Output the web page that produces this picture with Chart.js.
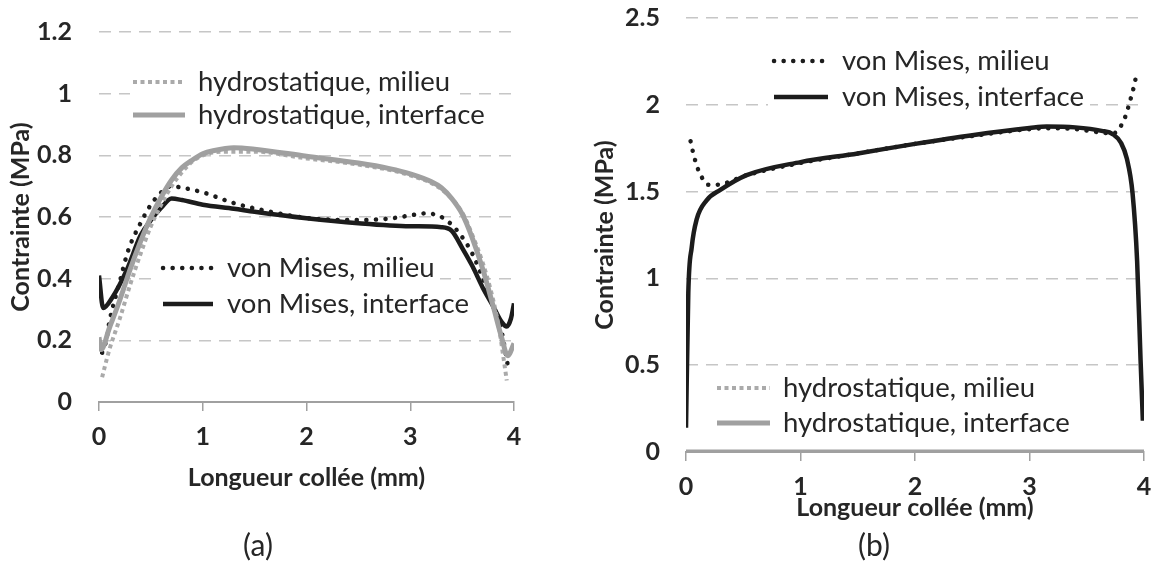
<!DOCTYPE html>
<html><head><meta charset="utf-8">
<script src="https://cdn.jsdelivr.net/npm/chart.js@4/dist/chart.umd.min.js"></script>
<style>
html,body{margin:0;padding:0;background:#fff;}
#wrap{position:relative;width:1153px;height:561px;overflow:hidden;background:#fff;}
.box{position:absolute;top:0;height:561px;}
#boxA{left:0;width:576px;}
#boxB{left:576px;width:577px;}
.cap{position:absolute;font-family:Lato,"Open Sans",sans-serif;font-size:30px;color:#262626;transform:translate(-50%,-50%);white-space:nowrap;}
</style></head><body>
<div id="wrap">
<div class="box" id="boxA"><canvas id="cA" width="576" height="561"></canvas></div>
<div class="box" id="boxB"><canvas id="cB" width="577" height="561"></canvas></div>
<div class="cap" style="left:258px;top:544px">(a)</div>
<div class="cap" style="left:874px;top:544px">(b)</div>
</div>
<script>
// ---------- data ----------
const xTicks = [0, 1, 2, 3, 4];
const yTicksA = [0, 0.2, 0.4, 0.6, 0.8, 1, 1.2];
const yTicksB = [0, 0.5, 1, 1.5, 2, 2.5];
const xTitle = 'Longueur collée (mm)';
const yTitle = 'Contrainte (MPa)';
const nameHM = 'hydrostatique, milieu';
const nameHI = 'hydrostatique, interface';
const nameVM = 'von Mises, milieu';
const nameVI = 'von Mises, interface';

// (a)
const aHydroMilieuX = [0.03, 0.06, 0.1, 0.2, 0.3, 0.4, 0.5, 0.6, 0.7, 0.8, 0.9, 1.0, 1.2, 1.5, 2.0, 2.5, 3.0, 3.3, 3.5, 3.6, 3.7, 3.8, 3.86, 3.9, 3.93];
const aHydroMilieuY = [0.08, 0.12, 0.17, 0.27, 0.38, 0.48, 0.57, 0.64, 0.70, 0.745, 0.78, 0.80, 0.812, 0.812, 0.79, 0.77, 0.735, 0.69, 0.615, 0.54, 0.45, 0.33, 0.23, 0.14, 0.07];
const aHydroInterX = [0, 0.02, 0.1, 0.2, 0.3, 0.4, 0.5, 0.6, 0.7, 0.8, 0.9, 1.0, 1.1, 1.3, 1.5, 2.0, 2.5, 2.8, 3.0, 3.2, 3.3, 3.4, 3.5, 3.6, 3.7, 3.8, 3.88, 3.94, 4.0];
const aHydroInterY = [0.21, 0.17, 0.24, 0.33, 0.43, 0.52, 0.6, 0.665, 0.72, 0.76, 0.785, 0.805, 0.815, 0.825, 0.82, 0.797, 0.775, 0.757, 0.74, 0.715, 0.695, 0.66, 0.61, 0.53, 0.43, 0.31, 0.21, 0.15, 0.19];
const aMisesMilieuX = [0.03, 0.07, 0.1, 0.2, 0.28, 0.4, 0.5, 0.6, 0.7, 0.8, 1.0, 1.3, 1.5, 2.0, 2.5, 2.8, 3.0, 3.15, 3.3, 3.4, 3.5, 3.6, 3.7, 3.8, 3.87, 3.94];
const aMisesMilieuY = [0.16, 0.2, 0.26, 0.39, 0.49, 0.58, 0.64, 0.68, 0.70, 0.695, 0.68, 0.645, 0.628, 0.597, 0.59, 0.595, 0.605, 0.612, 0.60, 0.575, 0.535, 0.48, 0.40, 0.31, 0.245, 0.12];
const aMisesInterX = [0, 0.04, 0.13, 0.27, 0.4, 0.5, 0.6, 0.7, 0.8, 1.0, 1.3, 1.5, 2.0, 2.5, 3.0, 3.3, 3.4, 3.5, 3.6, 3.7, 3.8, 3.88, 3.93, 3.97, 4.0];
const aMisesInterY = [0.41, 0.305, 0.34, 0.43, 0.54, 0.59, 0.63, 0.66, 0.655, 0.64, 0.627, 0.617, 0.596, 0.58, 0.57, 0.567, 0.555, 0.5, 0.44, 0.37, 0.31, 0.26, 0.245, 0.27, 0.32];

// (b)
const bMisesMilieuX = [0.04, 0.06, 0.08, 0.11, 0.14, 0.19, 0.27, 0.53, 1.0, 1.5, 2.0, 2.5, 3.0, 3.15, 3.4, 3.63, 3.73, 3.79, 3.83, 3.86, 3.89, 3.91, 3.93];
const bMisesMilieuY = [1.79, 1.73, 1.68, 1.62, 1.58, 1.54, 1.54, 1.595, 1.665, 1.72, 1.775, 1.82, 1.86, 1.865, 1.86, 1.84, 1.835, 1.87, 1.92, 1.98, 2.05, 2.1, 2.16];
const bMisesInterX = [0, 0.02, 0.05, 0.093, 0.18, 0.3, 0.53, 1.0, 1.5, 2.0, 2.5, 3.0, 3.15, 3.4, 3.63, 3.73, 3.8, 3.85, 3.9, 3.94, 3.97, 3.99];
const bMisesInterY = [0.14, 0.915, 1.18, 1.34, 1.45, 1.51, 1.595, 1.67, 1.72, 1.775, 1.825, 1.866, 1.875, 1.87, 1.85, 1.83, 1.78, 1.69, 1.49, 1.1, 0.53, 0.18];
const bHydroMilieuX = [0, 1, 2, 3, 4];
const bHydroMilieuY = [0, 0, 0, 0, 0];
const bHydroInterX = [0, 1, 2, 3, 4];
const bHydroInterY = [0, 0, 0, 0, 0];

// ---------- helpers ----------
const pts = (xs, ys) => xs.map((x, i) => ({x: x, y: ys[i]}));
const FONT = 'Lato';
const TXT = '#262626';
const BLACK = '#1c1c1c';
const GREY = '#a0a0a0';
const GREYDOT = '#aaaaaa';

function ds(label, xs, ys, kind, order) {
  const base = {label, data: pts(xs, ys), pointRadius: 0, fill: false,
    cubicInterpolationMode: 'monotone', order};
  if (kind === 'hm') return Object.assign(base, {borderColor: GREYDOT, borderWidth: 4, borderDash: [4, 3.5], borderCapStyle: 'butt'});
  if (kind === 'hi') return Object.assign(base, {borderColor: GREY, borderWidth: 5, borderCapStyle: 'butt'});
  if (kind === 'vm') return Object.assign(base, {borderColor: BLACK, borderWidth: 4.5, borderDash: [0.1, 9.5], borderCapStyle: 'round'});
  return Object.assign(base, {borderColor: BLACK, borderWidth: 4.5, borderCapStyle: 'butt'});
}

const placedLegend = {
  id: 'placedLegend',
  afterDatasetsDraw(chart, args, opts) {
    const ctx = chart.ctx;
    ctx.save();
    (opts.boxes || []).forEach(b => { ctx.fillStyle = '#fff'; ctx.fillRect(b[0], b[1], b[2] - b[0], b[3] - b[1]); });
    (opts.items || []).forEach(it => {
      const d = chart.data.datasets[it.ds];
      ctx.beginPath();
      ctx.strokeStyle = d.borderColor;
      ctx.lineWidth = d.borderWidth;
      ctx.setLineDash(d.borderDash || []);
      ctx.lineCap = d.borderCapStyle || 'butt';
      ctx.moveTo(it.x0, it.y); ctx.lineTo(it.x1, it.y);
      ctx.stroke();
      ctx.setLineDash([]);
      ctx.fillStyle = TXT;
      ctx.font = opts.font;
      ctx.textBaseline = 'middle';
      ctx.textAlign = 'left';
      ctx.fillText(d.label, it.tx, it.y);
    });
    ctx.restore();
  }
};

function makeChart(canvasId, datasets, yTicks, yMax, area, titleYPad, titleXPad, legend) {
  const cv = document.getElementById(canvasId);
  const W = cv.width, H = cv.height;
  return new Chart(cv, {
    type: 'line',
    data: {datasets},
    plugins: [placedLegend],
    options: {
      responsive: false, animation: false, devicePixelRatio: 1,
      layout: {padding: {left: 0, top: area.top, right: W - area.right, bottom: 0}},
      plugins: {legend: {display: false}, tooltip: {enabled: false}, placedLegend: legend},
      scales: {
        x: {
          type: 'linear', min: 0, max: 4,
          afterFit: s => { s.height = H - area.bottom; s.paddingLeft = 0; s.paddingRight = 0; s.paddingTop = 0; s.paddingBottom = 0; },
          afterBuildTicks: s => { s.ticks = xTicks.map(v => ({value: v})); },
          grid: {drawOnChartArea: false, drawTicks: true, tickLength: 9, color: GREY, lineWidth: 1.5},
          border: {display: true, color: GREY, width: 2},
          ticks: {color: TXT, font: {family: FONT, size: 25, weight: 'bold'}, padding: 11, maxRotation: 0, callback: v => String(v)},
          title: {display: true, text: xTitle, color: TXT, font: {family: FONT, size: 25, weight: 'bold', lineHeight: 1}, padding: {top: 0, bottom: titleXPad}}
        },
        y: {
          type: 'linear', min: 0, max: yMax,
          afterFit: s => { s.width = area.left; s.paddingLeft = 0; s.paddingRight = 0; s.paddingTop = 0; s.paddingBottom = 0; },
          afterBuildTicks: s => { s.ticks = yTicks.map(v => ({value: v})); },
          grid: {drawTicks: false, color: c => c.tick && c.tick.value === 0 ? 'rgba(0,0,0,0)' : '#c6c6c6', lineWidth: 1.5},
          border: {display: false, dash: [12, 8]},
          ticks: {color: TXT, font: {family: FONT, size: 25, weight: 'bold'}, padding: area.left - area.labelRight, callback: v => String(Math.round(v * 10) / 10)},
          title: {display: true, text: yTitle, color: TXT, font: {family: FONT, size: 25, weight: 'bold', lineHeight: 1}, padding: {top: titleYPad, bottom: 0}}
        }
      }
    }
  });
}

// chart (a)
makeChart('cA', [
  ds(nameHM, aHydroMilieuX, aHydroMilieuY, 'hm', 1),
  ds(nameHI, aHydroInterX, aHydroInterY, 'hi', 0),
  ds(nameVM, aMisesMilieuX, aMisesMilieuY, 'vm', 2),
  ds(nameVI, aMisesInterX, aMisesInterY, 'vi', 3)
], yTicksA, 1.2,
  {left: 99, right: 514, top: 32, bottom: 402, labelRight: 72},
  8.5, 561 - 478 - 12.5,
  {font: '27.5px Lato', boxes: [[130, 64, 460, 132], [157, 250, 440, 321]],
   items: [
     {ds: 0, x0: 133, x1: 185, y: 82, tx: 198},
     {ds: 1, x0: 133, x1: 185, y: 115, tx: 198},
     {ds: 2, x0: 163, x1: 213, y: 268, tx: 227},
     {ds: 3, x0: 163, x1: 213, y: 304, tx: 227}
   ]});

// chart (b)  (canvas starts at page x = 576)
makeChart('cB', [
  ds(nameVM, bMisesMilieuX, bMisesMilieuY, 'vm', 3),
  ds(nameVI, bMisesInterX, bMisesInterY, 'vi', 2),
  ds(nameHM, bHydroMilieuX, bHydroMilieuY, 'hm', 1),
  ds(nameHI, bHydroInterX, bHydroInterY, 'hi', 0)
], yTicksB, 2.5,
  {left: 110, right: 568, top: 18, bottom: 452, labelRight: 84},
  29 - 12.5, 561 - 508 - 12.5,
  {font: '27.5px Lato', boxes: [[768 - 576, 43, 1090 - 576, 114], [712 - 576, 370, 1085 - 576, 441]],
   items: [
     {ds: 0, x0: 774 - 576, x1: 828 - 576, y: 61, tx: 842 - 576},
     {ds: 1, x0: 774 - 576, x1: 828 - 576, y: 97, tx: 842 - 576},
     {ds: 2, x0: 717 - 576, x1: 770 - 576, y: 388, tx: 783 - 576},
     {ds: 3, x0: 717 - 576, x1: 770 - 576, y: 423, tx: 783 - 576}
   ]});
</script>
</body></html>
